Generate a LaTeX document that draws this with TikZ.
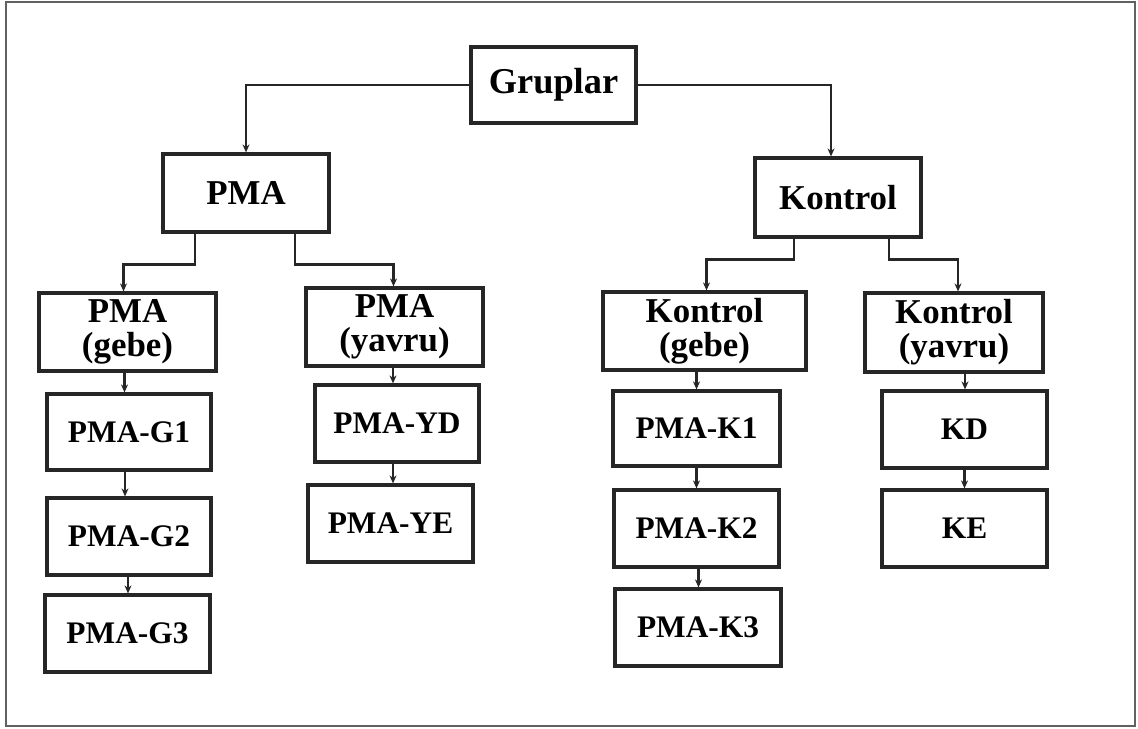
\documentclass[tikz,border=0pt]{standalone}
\usepackage{fontspec}
\setmainfont{Liberation Serif}
\usetikzlibrary{arrows.meta,calc}
\begin{document}
\begin{tikzpicture}[x=1bp,y=-1bp,
  box/.style={draw=black!85, line width=3.2bp, fill=white, inner sep=0pt,
    align=center, font=\fontsize{31.5}{34}\selectfont\bfseries},
  upper/.style={box, font=\fontsize{35}{34}\selectfont\bfseries},
  conn/.style={draw=black!85, line width=2.6bp,
    -{Stealth[length=8bp,width=7bp]}},
  frame/.style={draw=black!62, line width=2.8bp}]
\useasboundingbox (0,0) rectangle (1138,729);
\draw[frame] (6,2) rectangle (1135,726);
% nodes
\node[box, minimum width=165bp, minimum height=76bp, font=\fontsize{36.5}{38}\selectfont\bfseries] (grup) at (553.5,85) {Gruplar};
\node[upper, minimum width=166bp, minimum height=78bp] (pma) at (246,193) {PMA};
\node[upper, minimum width=166bp, minimum height=79bp] (kon) at (838,197.5) {Kontrol};
\node[upper, minimum width=177bp, minimum height=78bp] (pmag) at (127.5,332) {PMA\\(gebe)};
\node[upper, minimum width=177bp, minimum height=78bp] (pmay) at (394.5,327) {PMA\\(yavru)};
\node[upper, minimum width=203bp, minimum height=78bp] (kong) at (704.5,331) {Kontrol\\(gebe)};
\node[upper, minimum width=178bp, minimum height=79bp] (kony) at (954,332.5) {Kontrol\\(yavru)};
\node[box, minimum width=164bp, minimum height=76bp] (g1) at (129,432) {PMA-G1};
\node[box, minimum width=164bp, minimum height=77bp] (g2) at (129,536.5) {PMA-G2};
\node[box, minimum width=165bp, minimum height=77bp] (g3) at (127.5,633.5) {PMA-G3};
\node[box, minimum width=164bp, minimum height=77bp] (yd) at (397,423.5) {PMA-YD};
\node[box, minimum width=165bp, minimum height=77bp] (ye) at (390.5,523.5) {PMA-YE};
\node[box, minimum width=167bp, minimum height=75bp] (k1) at (696.5,428.5) {PMA-K1};
\node[box, minimum width=165bp, minimum height=77bp] (k2) at (696.5,528.5) {PMA-K2};
\node[box, minimum width=166bp, minimum height=77bp] (k3) at (698,627.5) {PMA-K3};
\node[box, minimum width=165bp, minimum height=77bp] (kd) at (964.5,429.5) {KD};
\node[box, minimum width=165bp, minimum height=77bp] (ke) at (964.5,528.5) {KE};
% top level
\draw[conn] (grup.west) -| (pma.north);
\draw[conn] (grup.east) -| ([xshift=-7bp]kon.north);
% PMA split
\draw[conn] ([xshift=-51bp]pma.south) -- ++(0,31) -| ([xshift=-4bp]pmag.north);
\draw[conn] ([xshift=49bp]pma.south) -- ++(0,31) -| ([xshift=-1bp]pmay.north);
% Kontrol split
\draw[conn] ([xshift=-44bp]kon.south) -- ++(0,21) -| ([xshift=2bp]kong.north);
\draw[conn] ([xshift=51bp]kon.south) -- ++(0,21) -| ([xshift=4bp]kony.north);
% chains
\draw[conn] ([xshift=-3bp]pmag.south) -- ([xshift=-3bp]pmag.south |- g1.north);
\draw[conn] ([xshift=-4bp]g1.south) -- ([xshift=-4bp]g1.south |- g2.north);
\draw[conn] ([xshift=-1bp]g2.south) -- ([xshift=-1bp]g2.south |- g3.north);
\draw[conn] ([xshift=-1.5bp]pmay.south) -- ([xshift=-1.5bp]pmay.south |- yd.north);
\draw[conn] ([xshift=-4bp]yd.south) -- ([xshift=-4bp]yd.south |- ye.north);
\draw[conn] ([xshift=-8bp]kong.south) -- ([xshift=-8bp]kong.south |- k1.north);
\draw[conn] (k1.south) -- (k1.south |- k2.north);
\draw[conn] ([xshift=2bp]k2.south) -- ([xshift=2bp]k2.south |- k3.north);
\draw[conn] ([xshift=11bp]kony.south) -- ([xshift=11bp]kony.south |- kd.north);
\draw[conn] (kd.south) -- (kd.south |- ke.north);
\end{tikzpicture}
\end{document}
